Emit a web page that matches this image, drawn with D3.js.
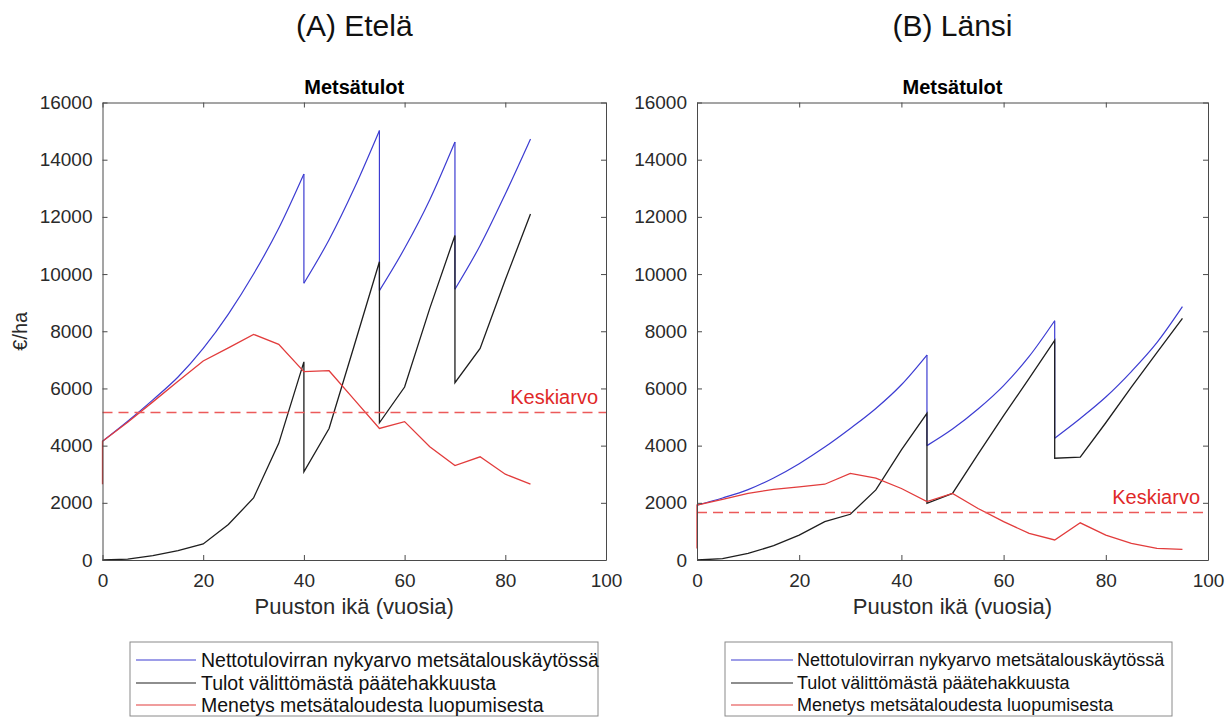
<!DOCTYPE html>
<html>
<head>
<meta charset="utf-8">
<script src="https://cdn.jsdelivr.net/npm/d3@7"></script>
<style>
    body { margin: 0; background: #fff; }
    svg { display: block; font-family: "Liberation Sans", Arial, sans-serif; }
</style>
</head>
<body>
<svg id="chart" width="1227" height="717"></svg>
<script>
const xTicks = [0, 20, 40, 60, 80, 100];
const yTicks = [0, 2000, 4000, 6000, 8000, 10000, 12000, 14000, 16000];

const legendLabels = [
    "Nettotulovirran nykyarvo metsätalouskäytössä",
    "Tulot välittömästä päätehakkuusta",
    "Menetys metsätaloudesta luopumisesta"
];

// (A) Etelä  -- [ikä, €/ha]
const etelaNetto = [[0, 4150], [5, 4850], [10, 5600], [15, 6400], [20, 7400], [25, 8600], [30, 10000],
    [35, 11600], [40, 13500], [40, 9680], [45, 11200], [50, 13000], [55, 15020], [55, 9420],
    [60, 10900], [65, 12600], [70, 14620], [70, 9470], [75, 11000], [80, 12800], [85, 14720]];
const etelaTulot = [[0, 0], [5, 30], [10, 150], [15, 330], [20, 560], [25, 1240], [30, 2170],
    [35, 4080], [40, 6930], [40, 3080], [45, 4600], [50, 7500], [55, 10430], [55, 4800],
    [60, 6050], [65, 8800], [70, 11350], [70, 6200], [75, 7400], [80, 9800], [85, 12100]];
const etelaMenetys = [[0, 2650], [0, 4150], [5, 4820], [10, 5530], [15, 6250], [20, 6960], [25, 7420],
    [30, 7890], [35, 7540], [40, 6590], [45, 6620], [50, 5610], [55, 4600], [60, 4840],
    [65, 3960], [70, 3300], [75, 3610], [80, 3000], [85, 2650]];
const etelaKeskiarvo = 5190;

// (B) Länsi
const lansiNetto = [[0, 1920], [5, 2170], [10, 2460], [15, 2870], [20, 3370], [25, 3950], [30, 4600],
    [35, 5300], [40, 6130], [45, 7170], [45, 4000], [50, 4580], [55, 5280], [60, 6100],
    [65, 7120], [70, 8370], [70, 4260], [75, 4950], [80, 5700], [85, 6590], [90, 7600], [95, 8860]];
const lansiTulot = [[0, 0], [5, 50], [10, 230], [15, 500], [20, 870], [25, 1340], [30, 1600],
    [35, 2450], [40, 3850], [45, 5130], [45, 1980], [50, 2330], [55, 3700], [60, 5050],
    [65, 6350], [70, 7680], [70, 3560], [75, 3600], [80, 4800], [85, 6050], [90, 7250], [95, 8450]];
const lansiMenetys = [[0, 400], [0, 1920], [5, 2120], [10, 2330], [15, 2470], [20, 2560], [25, 2650],
    [30, 3030], [35, 2860], [40, 2500], [45, 2040], [50, 2330], [55, 1800], [60, 1340],
    [65, 930], [70, 700], [75, 1300], [80, 870], [85, 580], [90, 410], [95, 375]];
const lansiKeskiarvo = 1690;

const colors = ["#3c3cd2", "#1e1e1e", "#e23c3c"];

const svg = d3.select("#chart");

function splitAtDrops(pts) {
    // pieces with a vertical jump where age repeats
    const parts = [];
    let cur = [pts[0]];
    for (let i = 1; i < pts.length; i++) {
        if (pts[i][0] === pts[i - 1][0]) {
            parts.push(cur);
            cur = [];
        }
        cur.push(pts[i]);
    }
    parts.push(cur);
    return parts;
}

function panel(cfg) {
    const x = d3.scaleLinear().domain([0, 100]).range([cfg.left, cfg.right]);
    const y = d3.scaleLinear().domain([0, 16000]).range([560, 102.5]);
    const cx = (cfg.left + cfg.right) / 2;

    const g = svg.append("g");

    g.append("text")
        .attr("x", cx).attr("y", 36)
        .attr("text-anchor", "middle")
        .style("font-size", "30px")
        .attr("fill", "#111")
        .text(cfg.title);

    g.append("text")
        .attr("x", cx).attr("y", 94)
        .attr("text-anchor", "middle")
        .style("font-size", "20px")
        .style("font-weight", "bold")
        .attr("fill", "#000")
        .text("Metsätulot");

    // series
    const straight = d3.line().x(d => x(d[0])).y(d => y(d[1]));
    const smooth = d3.line().x(d => x(d[0])).y(d => y(d[1])).curve(d3.curveMonotoneX);

    cfg.series.forEach((s, i) => {
        if (i === 0) {
            const parts = splitAtDrops(s);
            parts.forEach((p, k) => {
                g.append("path").attr("d", smooth(p))
                    .attr("fill", "none").attr("stroke", colors[i]).attr("stroke-width", 1.2);
                if (k > 0) {
                    const prev = parts[k - 1][parts[k - 1].length - 1];
                    g.append("path").attr("d", straight([prev, p[0]]))
                        .attr("fill", "none").attr("stroke", colors[i]).attr("stroke-width", 1.2);
                }
            });
        } else {
            g.append("path").attr("d", straight(s))
                .attr("fill", "none").attr("stroke", colors[i]).attr("stroke-width", 1.3);
        }
    });

    // mean
    const my = Math.round(y(cfg.mean)) + 0.5;
    g.append("line")
        .attr("x1", x(0)).attr("x2", x(100))
        .attr("y1", my).attr("y2", my)
        .attr("stroke", "#ec5a5a").attr("stroke-width", 1.5)
        .attr("stroke-dasharray", "10,6");

    g.append("text")
        .attr("x", x(100) - 8).attr("y", my - 9)
        .attr("text-anchor", "end")
        .style("font-size", "20px")
        .attr("fill", "#e02828")
        .text("Keskiarvo");

    // box axes, ticks inward
    const axisCol = "#4a4a4a";
    const fmt = d3.format("d");
    const ax = [
        g.append("g").attr("transform", `translate(0,560)`)
            .call(d3.axisBottom(x).tickValues(xTicks).tickSize(-5).tickSizeOuter(0).tickPadding(14).tickFormat(fmt)),
        g.append("g").attr("transform", `translate(${cfg.left},0)`)
            .call(d3.axisLeft(y).tickValues(yTicks).tickSize(-5).tickSizeOuter(0).tickPadding(10).tickFormat(fmt)),
        g.append("g").attr("transform", `translate(0,102.5)`)
            .call(d3.axisTop(x).tickValues(xTicks).tickSize(-5).tickSizeOuter(0).tickFormat("")),
        g.append("g").attr("transform", `translate(${cfg.right},0)`)
            .call(d3.axisRight(y).tickValues(yTicks).tickSize(-5).tickSizeOuter(0).tickFormat(""))
    ];
    ax.forEach(a => {
        a.select(".domain").attr("stroke", axisCol);
        a.selectAll(".tick line").attr("stroke", axisCol);
        a.selectAll(".tick text")
            .attr("fill", "#2a2a2a")
            .style("font-size", "19px")
            .style("font-family", "Liberation Sans, Arial, sans-serif");
    });

    g.append("text")
        .attr("x", cx).attr("y", 614)
        .attr("text-anchor", "middle")
        .style("font-size", "22px")
        .attr("fill", "#2a2a2a")
        .text("Puuston ikä (vuosia)");

    if (cfg.yLabel) {
        g.append("text")
            .attr("transform", `translate(27,${(102.5 + 560) / 2}) rotate(-90)`)
            .attr("text-anchor", "middle")
            .style("font-size", "20px")
            .attr("fill", "#2a2a2a")
            .text("€/ha");
    }

    // legend
    const L = cfg.legend;
    const lg = g.append("g");
    lg.append("rect")
        .attr("x", L.x0).attr("y", 642)
        .attr("width", L.x1 - L.x0).attr("height", 74)
        .attr("fill", "#fff").attr("stroke", "#8a8a8a").attr("stroke-width", 1);
    const rows = [660, 683, 705];
    legendLabels.forEach((lab, i) => {
        lg.append("line")
            .attr("x1", L.line0).attr("x2", L.line1)
            .attr("y1", rows[i]).attr("y2", rows[i])
            .attr("stroke", colors[i]).attr("stroke-width", 1.2);
        lg.append("text")
            .attr("x", L.text).attr("y", rows[i])
            .attr("dy", "0.35em")
            .style("font-size", L.font + "px")
            .attr("fill", "#111")
            .text(lab);
    });
}

panel({
    title: "(A) Etelä",
    left: 102.5, right: 606,
    series: [etelaNetto, etelaTulot, etelaMenetys],
    mean: etelaKeskiarvo,
    yLabel: true,
    legend: { x0: 130, x1: 598, line0: 136, line1: 196, text: 201, font: 19.5 }
});

panel({
    title: "(B) Länsi",
    left: 697, right: 1208,
    series: [lansiNetto, lansiTulot, lansiMenetys],
    mean: lansiKeskiarvo,
    yLabel: false,
    legend: { x0: 725, x1: 1172, line0: 731, line1: 793, text: 797, font: 18 }
});
</script>
</body>
</html>
